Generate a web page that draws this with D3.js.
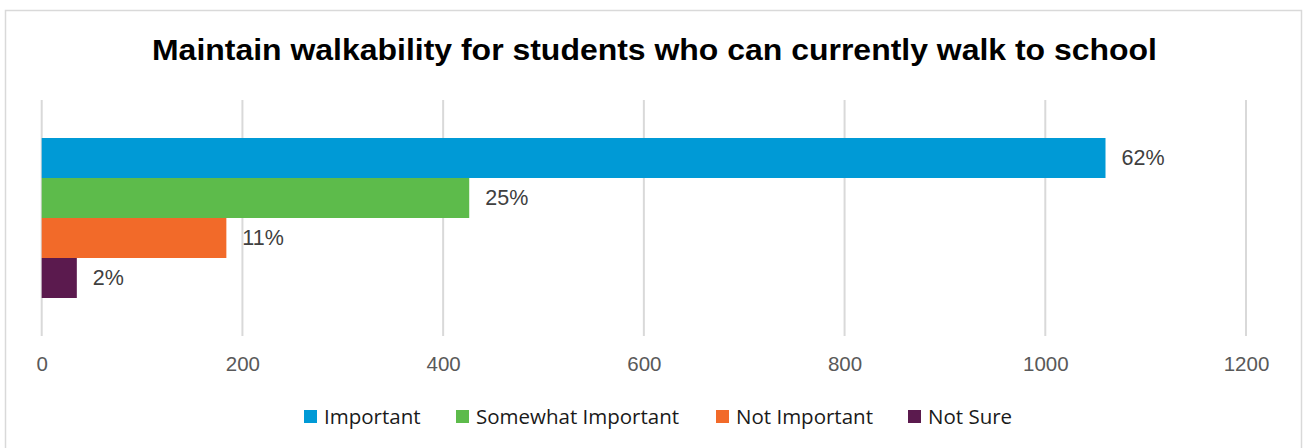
<!DOCTYPE html>
<html>
<head>
<meta charset="utf-8">
<script src="https://cdn.jsdelivr.net/npm/d3@7"></script>
<style>
  body { margin: 0; background: #fff; }
  svg { display: block; }
</style>
</head>
<body>
<div id="chart"></div>
<script>
var categories = ["Maintain walkability"];
var series = ["Important", "Somewhat Important", "Not Important", "Not Sure"];
var values = [1060, 426, 184, 35];
var labels = ["62%", "25%", "11%", "2%"];
var colors = ["#009ad6", "#5dbb4b", "#f26a29", "#5b1a4e"];
var ticks = [0, 200, 400, 600, 800, 1000, 1200];

var width = 1304, height = 448;

var svg = d3.select("#chart").append("svg")
  .attr("width", width).attr("height", height);

// chart frame
svg.append("rect")
  .attr("x", 5.5).attr("y", 10.5)
  .attr("width", 1296).attr("height", 460)
  .attr("fill", "#fff").attr("stroke", "#d9d9d9").attr("stroke-width", 1.5);

svg.append("text")
  .attr("x", 654.5).attr("y", 60)
  .attr("text-anchor", "middle")
  .attr("textLength", 1005).attr("lengthAdjust", "spacingAndGlyphs")
  .style("font-family", "Liberation Sans, Arial, sans-serif")
  .style("font-weight", "bold").style("font-size", "29px")
  .attr("fill", "#000")
  .text("Maintain walkability for students who can currently walk to school");

var x = d3.scaleLinear().domain([0, 1200]).range([41.7, 1246]);

var yCat = d3.scaleBand().domain(categories).range([100, 336])
  .paddingInner(0).paddingOuter(0.2375);
var ySer = d3.scaleBand().domain(series).range([0, yCat.bandwidth()]);

// gridlines
svg.append("g").selectAll("line")
  .data(ticks).enter().append("line")
  .attr("x1", function(d) { return x(d); })
  .attr("x2", function(d) { return x(d); })
  .attr("y1", 100).attr("y2", 336)
  .attr("stroke", "#d9d9d9").attr("stroke-width", 2);

// axis labels
var axis = svg.append("g")
  .attr("transform", "translate(0,353)")
  .call(d3.axisBottom(x).tickValues(ticks).tickSize(0).tickFormat(d3.format("d")));
axis.select(".domain").remove();
axis.selectAll("text")
  .style("font-family", "Liberation Sans, Arial, sans-serif")
  .style("font-size", "20.5px")
  .attr("fill", "#595959");

var g = svg.append("g")
  .attr("transform", "translate(0," + yCat(categories[0]) + ")");

g.selectAll("rect")
  .data(values).enter().append("rect")
  .attr("x", x(0))
  .attr("y", function(d, i) { return ySer(series[i]); })
  .attr("width", function(d) { return x(d) - x(0); })
  .attr("height", ySer.bandwidth())
  .attr("fill", function(d, i) { return colors[i]; });

g.selectAll("text.lbl")
  .data(values).enter().append("text")
  .attr("class", "lbl")
  .attr("x", function(d) { return x(d) + 16; })
  .attr("y", function(d, i) { return ySer(series[i]) + ySer.bandwidth() / 2; })
  .attr("dy", "0.34em")
  .style("font-family", "Liberation Sans, Arial, sans-serif")
  .style("font-size", "21.5px")
  .attr("fill", "#404040")
  .text(function(d, i) { return labels[i]; });

// legend
var legendX = [304, 456, 716, 908];
var leg = svg.append("g").selectAll("g")
  .data(series).enter().append("g")
  .attr("transform", function(d, i) { return "translate(" + legendX[i] + ",410)"; });
leg.append("rect")
  .attr("width", 13).attr("height", 13)
  .attr("fill", function(d, i) { return colors[i]; });
leg.append("text")
  .attr("x", 20).attr("y", 13.5)
  .style("font-family", "Open Sans, Noto Sans, sans-serif")
  .style("font-size", "20.5px")
  .attr("fill", "#1a1a1a")
  .text(function(d) { return d; });
</script>
</body>
</html>
